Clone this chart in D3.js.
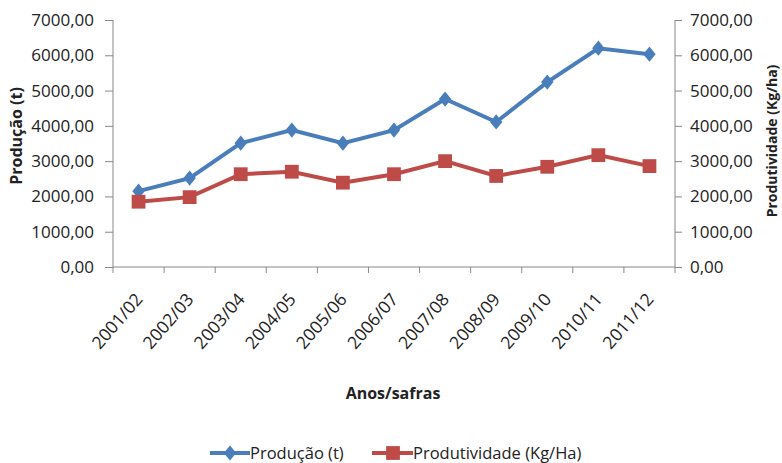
<!DOCTYPE html>
<html><head><meta charset="utf-8">
<script src="https://cdn.jsdelivr.net/npm/d3@7"></script>
<style>body{margin:0;background:#fff}svg{display:block}text{font-family:"Open Sans",sans-serif;fill:#222}</style>
</head><body><svg id="c" width="782" height="463"></svg>
<script>
const categories=["2001/02","2002/03","2003/04","2004/05","2005/06","2006/07","2007/08","2008/09","2009/10","2010/11","2011/12"];
const producao=[2150,2520,3510,3880,3510,3880,4760,4110,5240,6200,6030];
const produtividade=[1850,1980,2630,2700,2390,2630,3000,2580,2840,3170,2860];
const yTicks=[0,1000,2000,3000,4000,5000,6000,7000];
const svg=d3.select("#c");
const L=113,R=675,T=20,B=267;
const x=d3.scaleBand().domain(categories).range([L,R]);
const y=d3.scaleLinear().domain([0,7000]).range([B,T]);
const y2=d3.scaleLinear().domain([0,7000]).range([B,T]);
const fmt=d=>d3.format(".2f")(d).replace(".",",");
const gl=svg.append("g").attr("transform",`translate(${L},0)`).call(d3.axisLeft(y).tickValues(yTicks).tickFormat(fmt).tickSize(8).tickPadding(11));
const gr=svg.append("g").attr("transform",`translate(${R},0)`).call(d3.axisRight(y2).tickValues(yTicks).tickFormat(fmt).tickSize(7).tickPadding(8));
[gl,gr].forEach(g=>{g.selectAll("path,line").attr("stroke","#888");g.selectAll("text").style("font-size","17px").attr("fill","#222");});
gl.select(".domain").attr("d",`M0,${B}V${T}`);gr.select(".domain").attr("d",`M0,${B}V${T}`);
const gx=svg.append("g").attr("transform",`translate(0,${B})`);
gx.append("line").attr("x1",L).attr("x2",R).attr("stroke","#888");
gx.selectAll("line.t").data(d3.range(categories.length+1)).enter().append("line").attr("class","t")
 .attr("x1",i=>L+i*x.step()).attr("x2",i=>L+i*x.step()).attr("y1",0).attr("y2",6).attr("stroke","#888");
gx.selectAll("text").data(categories).enter().append("text")
 .attr("transform",d=>`translate(${x(d)+x.bandwidth()/2+5},33) rotate(-49)`)
 .attr("text-anchor","end").style("font-size","17.5px").text(d=>d);
svg.append("text").attr("x",393).attr("y",399).attr("text-anchor","middle").style("font-size","16px").style("font-weight","bold").text("Anos/safras");
svg.append("text").attr("transform","translate(22,136) rotate(-90)").attr("text-anchor","middle").style("font-size","16px").style("font-weight","bold").text("Produção  (t)");
svg.append("text").attr("transform","translate(777,141) rotate(-90)").attr("text-anchor","middle").style("font-size","14px").style("font-weight","bold").text("Produtividade  (Kg/ha)");
const cx=d=>x(d)+x.bandwidth()/2;
const blue="#4A7EBB",red="#BE4B48";
svg.append("path").datum(producao).attr("fill","none").attr("stroke",blue).attr("stroke-width",4)
 .attr("d",d3.line().x((d,i)=>cx(categories[i])).y(d=>y(d)));
svg.append("path").datum(produtividade).attr("fill","none").attr("stroke",red).attr("stroke-width",4)
 .attr("d",d3.line().x((d,i)=>cx(categories[i])).y(d=>y2(d)));
const dia=d3.symbol().type(d3.symbolDiamond).size(110);
const sq=d3.symbol().type(d3.symbolSquare).size(190);
svg.selectAll("path.b").data(producao).enter().append("path").attr("class","b").attr("fill",blue)
 .attr("transform",(d,i)=>`translate(${cx(categories[i])},${y(d)}) scale(1.1,0.78)`).attr("d",dia);
svg.selectAll("path.r").data(produtividade).enter().append("path").attr("class","r").attr("fill",red)
 .attr("transform",(d,i)=>`translate(${cx(categories[i])},${y2(d)})`).attr("d",sq);
const lg=svg.append("g").attr("transform","translate(0,453)");
lg.append("line").attr("x1",210).attr("x2",250).attr("stroke",blue).attr("stroke-width",4);
lg.append("path").attr("transform","translate(230,0) scale(1.1,0.78)").attr("d",dia).attr("fill",blue);
lg.append("text").attr("x",250).attr("y",6).style("font-size","16.5px").text("Produção (t)");
lg.append("line").attr("x1",372).attr("x2",413).attr("stroke",red).attr("stroke-width",4);
lg.append("path").attr("transform","translate(393,0)").attr("d",sq).attr("fill",red);
lg.append("text").attr("x",413).attr("y",6).style("font-size","16.5px").text("Produtividade (Kg/Ha)");
</script></body></html>
